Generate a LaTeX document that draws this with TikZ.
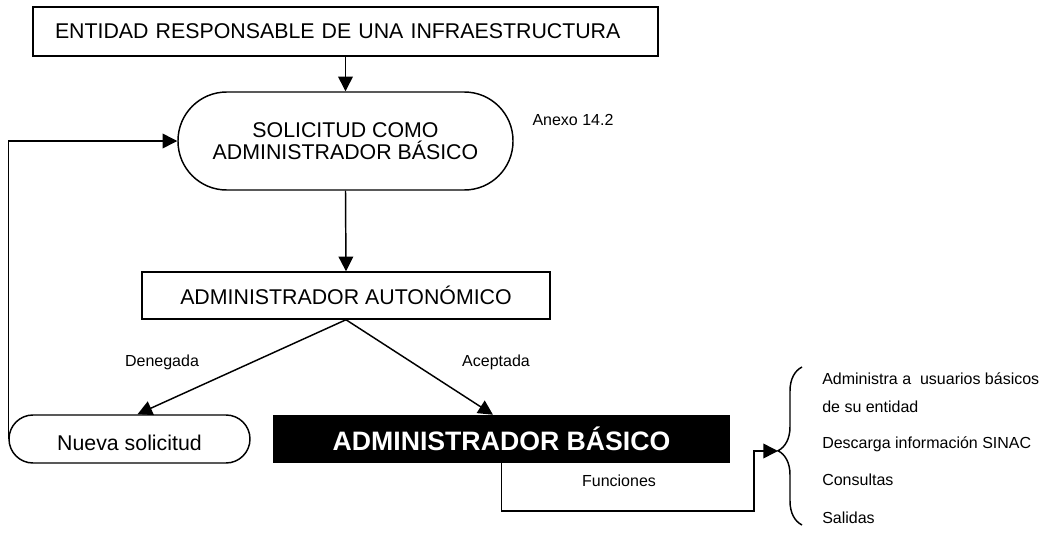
\documentclass[tikz,border=0pt]{standalone}
\usepackage{fontspec}
\setmainfont{Liberation Sans}
\usetikzlibrary{arrows.meta,decorations.pathreplacing}

\begin{document}
\begin{tikzpicture}[x=0.75pt,y=-0.75pt,
  every node/.style={inner sep=0pt},
  big/.style={font=\fontsize{16}{16.5}\selectfont},
  small/.style={font=\fontsize{12}{14}\selectfont},
  rbox/.style={draw,line width=1.1pt,big,align=center},
  arr/.style={line width=1.1pt,-{Triangle[length=11pt,width=11pt]}}]
  \useasboundingbox (0,0) rectangle (1046,536);
  % boxes
  \node[rbox,minimum width=468.75pt,minimum height=36.75pt,text width=435.75pt,align=left] (ent) at (345.5,31.5) {ENTIDAD RESPONSABLE DE UNA INFRAESTRUCTURA};
  \node[rbox,rounded corners=36.5pt,minimum width=251.25pt,minimum height=73.5pt] (sol) at (345.5,141) {SOLICITUD COMO\\ADMINISTRADOR BÁSICO};
  \node[small] (anx) at (573,120) {Anexo 14.2};
  \node[rbox,minimum width=306pt,minimum height=35.25pt] (aut) at (346,295.5) {ADMINISTRADOR AUTONÓMICO};
  \node[rbox,rounded corners=18pt,minimum width=180.75pt,minimum height=36pt] (nue) at (129.5,439) {};
  \begin{scope}
    \clip (20,425) rectangle (240,450);
    \node[big,anchor=base] (nuetxt) at (129.5,450) {Nueva solicitud};
  \end{scope}
  \node[fill=black,text=white,font=\fontsize{20}{24}\selectfont\bfseries,minimum width=342.75pt,minimum height=36pt] (bas) at (501.5,439) {ADMINISTRADOR BÁSICO};
  % arrows
  \draw[arr] (ent.south -| sol.north) -- (sol.north);
  \draw[arr] (sol.south) -- (aut.north);
  \draw[arr] (aut.south) -- ([xshift=6pt]nue.north);
  \draw[arr] (aut.south) -- ([xshift=-6.4pt]bas.north);
  \draw[arr] (nue.west) |- (sol.west);
  % labels
  \node[small] (den) at (162,362) {Denegada};
  \node[small] (ace) at (496,362) {Aceptada};
  \node[small] (fun) at (619,481) {Funciones};
  % functions
  \coordinate (fc) at (754,511);
  \coordinate (bt) at (778,451);
  \draw[arr] (bas.south) |- (fc) |- (bt);
  \draw[line width=1.1pt,decorate,decoration={brace,amplitude=18pt,aspect=0.47}] (802,525) -- (802,367);
  \foreach \yy/\txt [count=\i] in {384/Administra a~~usuarios básicos,412/de su entidad,448/Descarga información SINAC,485/Consultas,523/Salidas}
    \node[small,anchor=base west] (fn\i) at (822,\yy) {\txt};
\end{tikzpicture}
\end{document}
